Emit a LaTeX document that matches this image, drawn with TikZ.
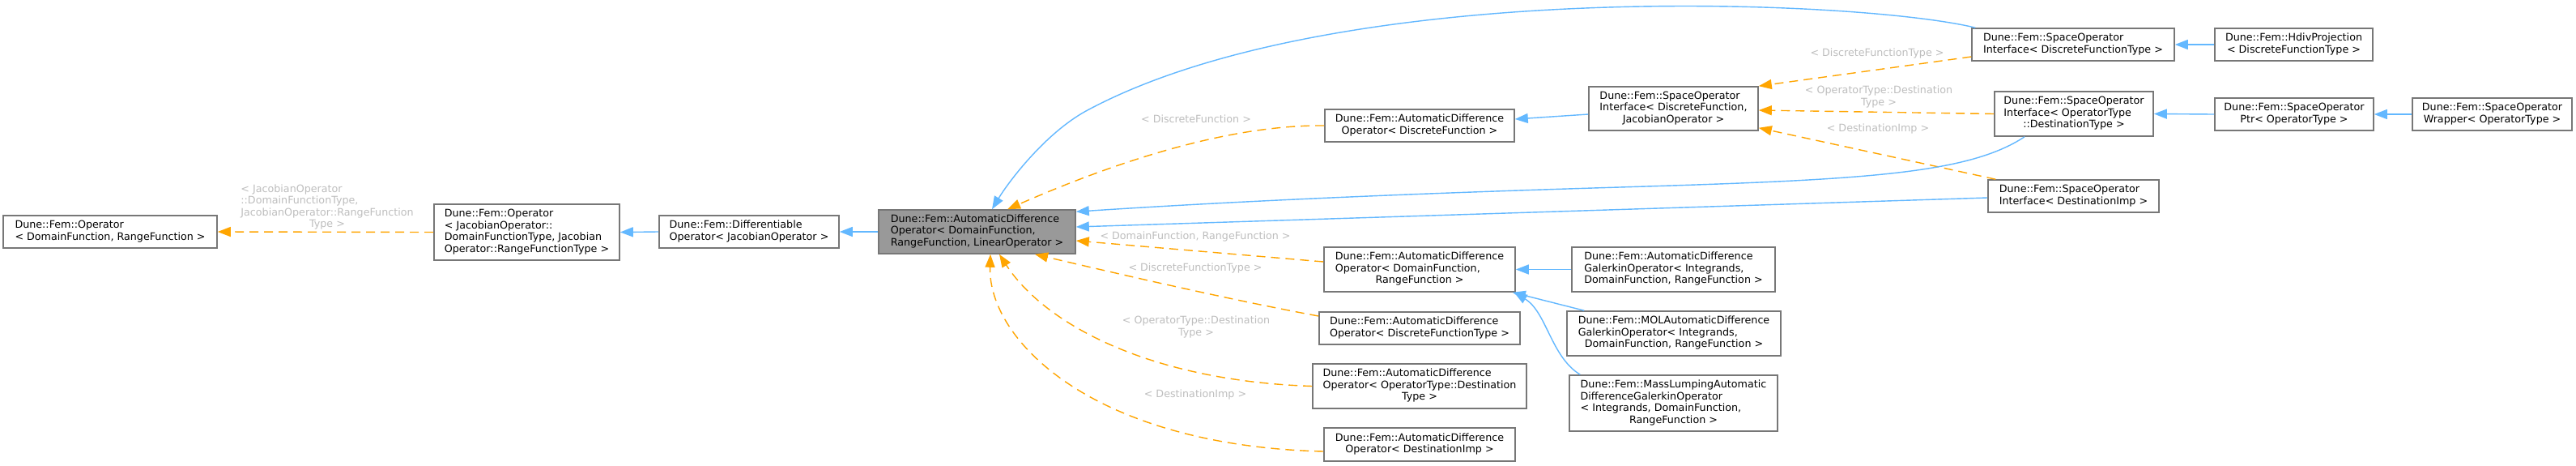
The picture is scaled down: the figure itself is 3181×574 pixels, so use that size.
\documentclass[tikz,border=0pt]{standalone}
\usepackage{fontspec}
\setmainfont{DejaVu Sans}
\usetikzlibrary{arrows.meta}
\definecolor{edgeblue}{HTML}{63B8FF}
\definecolor{edgeorange}{HTML}{FFA500}
\definecolor{boxline}{HTML}{777777}
\definecolor{labgrey}{HTML}{BEBEBE}
\definecolor{curfill}{HTML}{999999}
\newcommand{\ml}[2]{\begin{tabular}{@{}l@{}}#1\\\multicolumn{1}{@{}c@{}}{#2}\end{tabular}}
\tikzset{
  cls/.style={draw=boxline, line width=0.8pt, fill=white, inner sep=0pt,
    font=\fontsize{6.35pt}{7.25pt}\selectfont, text=black},
  inh/.style={draw=edgeblue, line width=0.7pt, -{Triangle[length=8pt,width=6pt]}},
  tpl/.style={draw=edgeorange, line width=0.7pt, dash pattern=on 5.5pt off 3.5pt,
    -{Triangle[length=8pt,width=6pt]}},
  elab/.style={font=\fontsize{6.35pt}{7.25pt}\selectfont, text=labgrey, inner sep=0pt},
}
\begin{document}
\begin{tikzpicture}[x=0.5pt,y=-0.5pt]
\fill[white] (0,0) rectangle (3181,574);
\useasboundingbox (0,0) rectangle (3181,574);

% nodes
\node[cls, minimum width=132pt, minimum height=20pt] (opdr) at (136,286)
  {\ml{Dune::Fem::Operator}{< DomainFunction, RangeFunction >}};
\node[cls, minimum width=114.5pt, minimum height=34.5pt] (opjac) at (650.5,286.5)
  {\ml{Dune::Fem::Operator\\< JacobianOperator::\\DomainFunctionType, Jacobian}{Operator::RangeFunctionType >}};
\node[cls, minimum width=111pt, minimum height=20pt] (diff) at (925,286)
  {\ml{Dune::Fem::Differentiable}{Operator< JacobianOperator >}};
\node[cls, fill=curfill, minimum width=121.5pt, minimum height=27pt] (central) at (1206.5,286)
  {\ml{Dune::Fem::AutomaticDifference\\Operator< DomainFunction,}{RangeFunction, LinearOperator >}};
\node[cls, minimum width=117pt, minimum height=20pt] (addf) at (1753,155)
  {\ml{Dune::Fem::AutomaticDifference}{Operator< DiscreteFunction >}};
\node[cls, minimum width=104.5pt, minimum height=27pt] (soidj) at (2066.5,134)
  {\ml{Dune::Fem::SpaceOperator\\Interface< DiscreteFunction,}{JacobianOperator >}};
\node[cls, minimum width=125pt, minimum height=20pt] (soidft) at (2560,55)
  {\ml{Dune::Fem::SpaceOperator}{Interface< DiscreteFunctionType >}};
\node[cls, minimum width=97.5pt, minimum height=20pt] (hdiv) at (2832.5,55)
  {\ml{Dune::Fem::HdivProjection}{< DiscreteFunctionType >}};
\node[cls, minimum width=98pt, minimum height=27.5pt] (soiodt) at (2561,140.5)
  {\ml{Dune::Fem::SpaceOperator\\Interface< OperatorType}{::DestinationType >}};
\node[cls, minimum width=98pt, minimum height=20pt] (ptr) at (2833,141)
  {\ml{Dune::Fem::SpaceOperator}{Ptr< OperatorType >}};
\node[cls, minimum width=98.5pt, minimum height=20pt] (wrapper) at (3077.5,141)
  {\ml{Dune::Fem::SpaceOperator}{Wrapper< OperatorType >}};
\node[cls, minimum width=105.5pt, minimum height=20pt] (soidi) at (2560.5,242)
  {\ml{Dune::Fem::SpaceOperator}{Interface< DestinationImp >}};
\node[cls, minimum width=118pt, minimum height=27.5pt] (addrf) at (1753,332.5)
  {\ml{Dune::Fem::AutomaticDifference\\Operator< DomainFunction,}{RangeFunction >}};
\node[cls, minimum width=124pt, minimum height=20pt] (addft) at (1753,405)
  {\ml{Dune::Fem::AutomaticDifference}{Operator< DiscreteFunctionType >}};
\node[cls, minimum width=132pt, minimum height=27.5pt] (adodt) at (1753,476.5)
  {\ml{Dune::Fem::AutomaticDifference\\Operator< OperatorType::Destination}{Type >}};
\node[cls, minimum width=118pt, minimum height=20.5pt] (addi) at (1753,548.5)
  {\ml{Dune::Fem::AutomaticDifference}{Operator< DestinationImp >}};
\node[cls, minimum width=125.5pt, minimum height=27.5pt] (adgal) at (2066.5,332.5)
  {\ml{Dune::Fem::AutomaticDifference\\GalerkinOperator< Integrands,}{DomainFunction, RangeFunction >}};
\node[cls, minimum width=132pt, minimum height=27.5pt] (molgal) at (2067,411.5)
  {\ml{Dune::Fem::MOLAutomaticDifference\\GalerkinOperator< Integrands,}{DomainFunction, RangeFunction >}};
\node[cls, minimum width=128.5pt, minimum height=34.5pt] (mass) at (2066.5,497.5)
  {\ml{Dune::Fem::MassLumpingAutomatic\\DifferenceGalerkinOperator\\< Integrands, DomainFunction,}{RangeFunction >}};

% edges
\draw[tpl] (opjac.west) -- (opdr.east);
\draw[inh] (diff.west) -- (opjac.east);
\draw[inh] (central.west) -- (diff.east);
\draw[inh] ([xshift=2.5pt]soidft.north west) .. controls (2300,0) and (1650,-30) .. (1341,137)
  .. controls (1290,165) and (1245,225) .. ([xshift=9.25pt]central.north);
\draw[tpl] (addf.west) .. controls (1530,154) and (1400,190) .. ([xshift=18.75pt]central.north);
\draw[inh] ([yshift=-3.5pt]soidj.west) -- ([yshift=4pt]addf.east);
\draw[tpl] ([yshift=-7.5pt]soidft.west) -- (soidj.north east);
\draw[tpl] (soiodt.west) -- ([yshift=-1pt]soidj.east);
\draw[tpl] ([xshift=5pt]soidi.north west) -- ([yshift=2pt]soidj.south east);
\draw[inh] (hdiv.west) -- (soidft.east);
\draw[inh] (ptr.west) -- (soiodt.east);
\draw[inh] (wrapper.west) -- (ptr.east);
\draw[inh] ([xshift=-30.5pt]soiodt.south) .. controls (2430,215) and (2300,222) .. (2000,231)
  .. controls (1700,240) and (1500,250) .. ([yshift=-1.5pt]central.north east);
\draw[inh] ([yshift=-1pt]soidi.west) -- ([yshift=3pt]central.east);
\draw[tpl] ([yshift=4.75pt]addrf.west) -- ([yshift=-5.5pt]central.east);
\draw[tpl] ([yshift=7.5pt]addft.west) .. controls (1520,370) and (1390,340) .. ([xshift=35.75pt]central.south);
\draw[tpl] (adodt.west) .. controls (1420,470) and (1290,400) .. ([xshift=13.75pt]central.south);
\draw[tpl] ([yshift=-4.25pt]addi.west) .. controls (1350,550) and (1220,420) .. ([xshift=8.25pt]central.south);
\draw[inh] (adgal.west) -- (addrf.east);
\draw[inh] ([xshift=11pt]molgal.north west) -- ([xshift=-2pt]addrf.south east);
\draw[inh] ([xshift=7pt]mass.north west) .. controls (1915,440) and (1910,385) .. ([xshift=-1pt]addrf.south east);

% edge labels
\node[elab] (l1) at (404,256) {\ml{< JacobianOperator\\::DomainFunctionType,\\JacobianOperator::RangeFunction}{Type >}};
\node[elab] (l5) at (1477,147) {< DiscreteFunction >};
\node[elab] (l7) at (2318,66) {< DiscreteFunctionType >};
\node[elab] (l8) at (2320,120) {\ml{< OperatorType::Destination}{Type >}};
\node[elab] (l9) at (2319,159) {< DestinationImp >};
\node[elab] (l15) at (1476,292) {< DomainFunction, RangeFunction >};
\node[elab] (l16) at (1476,331) {< DiscreteFunctionType >};
\node[elab] (l17) at (1477,404) {\ml{< OperatorType::Destination}{Type >}};
\node[elab] (l18) at (1476,487) {< DestinationImp >};
\end{tikzpicture}
\end{document}
